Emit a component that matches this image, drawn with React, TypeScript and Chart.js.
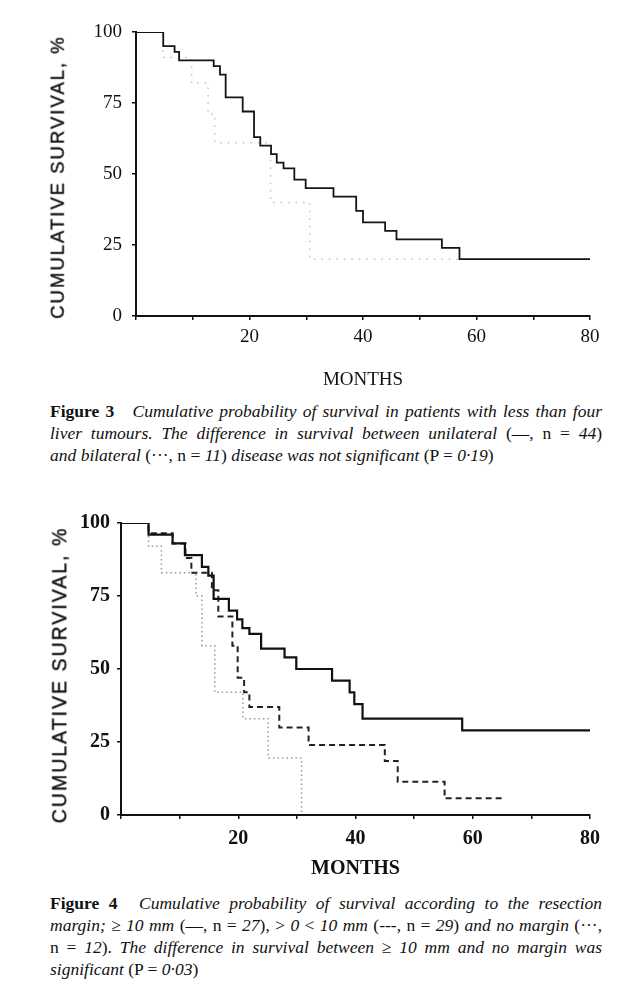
import React, { useEffect, useRef } from 'react';
import { Chart, registerables } from 'chart.js';

Chart.register(...registerables);

// ---------- Figure 3 data (months, cumulative survival %) ----------
const fig3UnilateralMonths = [0, 4.8, 6.8, 7.6, 13.7, 14.8, 15.8, 18.8, 20.8, 21.9, 23.8, 24.8, 26, 27.9, 29.9, 34.8, 38.8, 40, 43.9, 45.9, 53.9, 57, 80];
const fig3UnilateralSurvival = [100, 95, 93, 90, 88, 85, 77, 72, 63, 60, 57, 54, 52, 48, 45, 42, 37, 33, 30, 27, 24, 20, 20];
const fig3BilateralMonths = [0, 4.7, 9.8, 12.7, 13.9, 23.7, 30.6, 57];
const fig3BilateralSurvival = [100, 91, 82, 71, 61, 40, 20, 20];

// ---------- Figure 4 data ----------
const fig4WideMonths = [0, 4.7, 8.8, 10.9, 13.8, 14.9, 15.8, 18.4, 19.8, 20.7, 21.9, 23.9, 27.9, 29.9, 36, 39, 39.8, 41.2, 58.2, 80];
const fig4WideSurvival = [100, 96, 93, 89, 85, 82, 74, 70, 67, 64, 62, 57, 54, 50, 46, 42, 38, 33, 29, 29];
const fig4NarrowMonths = [0, 4.7, 8.8, 11, 12, 15.5, 16.6, 19, 19.9, 21, 21.9, 27, 32, 45, 47.2, 55.2, 65.4];
const fig4NarrowSurvival = [100, 96.5, 93, 88, 83, 77, 68, 58, 47, 42, 37, 30, 24, 18.5, 11.4, 5.7, 5.7];
const fig4NoneMonths = [0, 4.7, 6.9, 12.8, 13.8, 16, 20.8, 25.1, 30.8];
const fig4NoneSurvival = [100, 92, 83, 75, 58, 42, 33, 19.5, 0];

// ---------- axis ticks ----------
const xTickLabels = [20, 40, 60, 80];
const xTickStep = 10;
const yTickStep = 25;

const toPoints = (xs: number[], ys: number[]) => xs.map((x, i) => ({ x, y: ys[i] }));

type KMProps = {
  top: number;
  height: number;
  padTop: number;
  axisLeft: number;
  axisBottom: number;
  datasets: any[];
  bold: boolean;
  tickSize: number;
  titleSize: number;
  xPad: number;
  yPad: number;
  titlePad: number;
};

function KMChart(p: KMProps) {
  const ref = useRef<HTMLCanvasElement>(null);
  useEffect(() => {
    const weight = p.bold ? 'bold' : 'normal';
    const tickFont = { family: "'Liberation Serif', 'Times New Roman', serif", size: p.tickSize, weight };
    const chart = new Chart(ref.current as HTMLCanvasElement, {
      type: 'line',
      data: { datasets: p.datasets },
      options: {
        responsive: false,
        animation: false,
        devicePixelRatio: 1,
        layout: { padding: { left: 0, right: 50, top: p.padTop, bottom: 0 } },
        plugins: { legend: { display: false }, tooltip: { enabled: false }, title: { display: false } },
        elements: { point: { radius: 0 }, line: { tension: 0 } },
        scales: {
          x: {
            type: 'linear',
            min: 0,
            max: 80,
            ticks: {
              stepSize: xTickStep,
              autoSkip: false,
              maxRotation: 0,
              color: '#111',
              font: tickFont as any,
              padding: p.xPad,
              callback: (v: any) => (xTickLabels.includes(Number(v)) ? String(v) : ''),
            },
            grid: { display: true, drawOnChartArea: false, drawTicks: true, tickLength: 4, color: '#111', lineWidth: 1.5 },
            border: { display: true, color: '#111', width: 2 },
            title: {
              display: true,
              text: 'MONTHS',
              color: '#111',
              font: { family: "'Liberation Serif', 'Times New Roman', serif", size: p.titleSize, weight } as any,
              padding: { top: 0, bottom: p.titlePad },
            },
            afterFit: (s: any) => {
              s.height = p.height - p.axisBottom;
            },
          },
          y: {
            type: 'linear',
            min: 0,
            max: 100,
            ticks: { stepSize: yTickStep, color: '#111', font: tickFont as any, padding: p.yPad },
            grid: { display: true, drawOnChartArea: false, drawTicks: true, tickLength: 4, color: '#111', lineWidth: 1.5 },
            border: { display: true, color: '#111', width: 2 },
            afterFit: (s: any) => {
              s.width = p.axisLeft;
            },
          },
        },
      } as any,
    });
    return () => chart.destroy();
  }, []);
  return (
    <canvas
      ref={ref}
      width={640}
      height={p.height}
      style={{ position: 'absolute', left: 0, top: p.top, width: 640, height: p.height }}
    />
  );
}

const yTitleStyle = (cx: number, cy: number, size: number): React.CSSProperties => ({
  position: 'absolute',
  left: cx,
  top: cy,
  transform: 'translate(-50%, -50%) rotate(-90deg)',
  whiteSpace: 'nowrap',
  fontFamily: "'Liberation Sans', Arial, sans-serif",
  fontSize: size,
  letterSpacing: '2px',
  color: '#111',
  WebkitTextStroke: '0.4px #111',
  lineHeight: 1,
});

const lineStyle = (last: boolean): React.CSSProperties => ({
  whiteSpace: 'nowrap',
  textAlign: last ? 'left' : 'justify',
  textAlignLast: last ? 'left' : 'justify',
  height: 22,
});

const captionStyle = (top: number): React.CSSProperties => ({
  position: 'absolute',
  left: 50,
  top,
  width: 552,
  fontFamily: "'Liberation Serif', 'Times New Roman', serif",
  fontSize: 17.5,
  lineHeight: '22px',
  color: '#111',
});

export default function App() {
  const fig3Datasets = [
    {
      data: toPoints(fig3UnilateralMonths, fig3UnilateralSurvival),
      borderColor: '#151515',
      borderWidth: 1.8,
      stepped: 'before',
      fill: false,
    },
    {
      data: toPoints(fig3BilateralMonths, fig3BilateralSurvival),
      borderColor: '#c4c4c4',
      borderWidth: 1.5,
      borderDash: [1.5, 6],
      stepped: 'before',
      fill: false,
    },
  ];
  const fig4Datasets = [
    {
      data: toPoints(fig4WideMonths, fig4WideSurvival),
      borderColor: '#111',
      borderWidth: 2.2,
      stepped: 'before',
      fill: false,
    },
    {
      data: toPoints(fig4NarrowMonths, fig4NarrowSurvival),
      borderColor: '#222',
      borderWidth: 2,
      borderDash: [6, 4],
      stepped: 'before',
      fill: false,
    },
    {
      data: toPoints(fig4NoneMonths, fig4NoneSurvival),
      borderColor: '#999',
      borderWidth: 1.5,
      borderDash: [1.5, 3],
      stepped: 'before',
      fill: false,
    },
  ];

  return (
    <div style={{ position: 'absolute', left: 0, top: 0, width: 640, height: 996, background: '#fff', overflow: 'hidden' }}>
      <KMChart
        top={0}
        height={400}
        padTop={32}
        axisLeft={136}
        axisBottom={316}
        datasets={fig3Datasets}
        bold={false}
        tickSize={19}
        titleSize={19}
        xPad={6}
        yPad={10}
        titlePad={9}
      />
      <div style={yTitleStyle(58, 177, 18.5)}>CUMULATIVE SURVIVAL, %</div>
      <div style={captionStyle(400)}>
        <div style={lineStyle(false)}>
          <b style={{ marginRight: 12 }}>Figure 3</b> <i>Cumulative probability of survival in patients with less than four</i>
        </div>
        <div style={lineStyle(false)}>
          <i>liver tumours. The difference in survival between unilateral</i> (—, n = <i>44</i>)
        </div>
        <div style={lineStyle(true)}>
          <i>and bilateral</i> (···, n = <i>11</i>) <i>disease was not significant</i> (P = <i>0·19</i>)
        </div>
      </div>

      <KMChart
        top={470}
        height={420}
        padTop={53}
        axisLeft={121}
        axisBottom={345}
        datasets={fig4Datasets}
        bold={true}
        tickSize={20}
        titleSize={20}
        xPad={8}
        yPad={7}
        titlePad={9}
      />
      <div style={yTitleStyle(60, 675, 19.5)}>CUMULATIVE SURVIVAL, %</div>
      <div style={captionStyle(892)}>
        <div style={lineStyle(false)}>
          <b style={{ marginRight: 12 }}>Figure 4</b> <i>Cumulative probability of survival according to the resection</i>
        </div>
        <div style={lineStyle(false)}>
          <i>margin;</i> ≥ <i>10 mm</i> (—, n = <i>27</i>), &gt; <i>0</i> &lt; <i>10 mm</i> (---, n = <i>29</i>) <i>and no margin</i> (···,
        </div>
        <div style={lineStyle(false)}>
          n = <i>12</i>). <i>The difference in survival between</i> ≥ <i>10 mm and no margin was</i>
        </div>
        <div style={lineStyle(true)}>
          <i>significant</i> (P = <i>0·03</i>)
        </div>
      </div>
    </div>
  );
}
